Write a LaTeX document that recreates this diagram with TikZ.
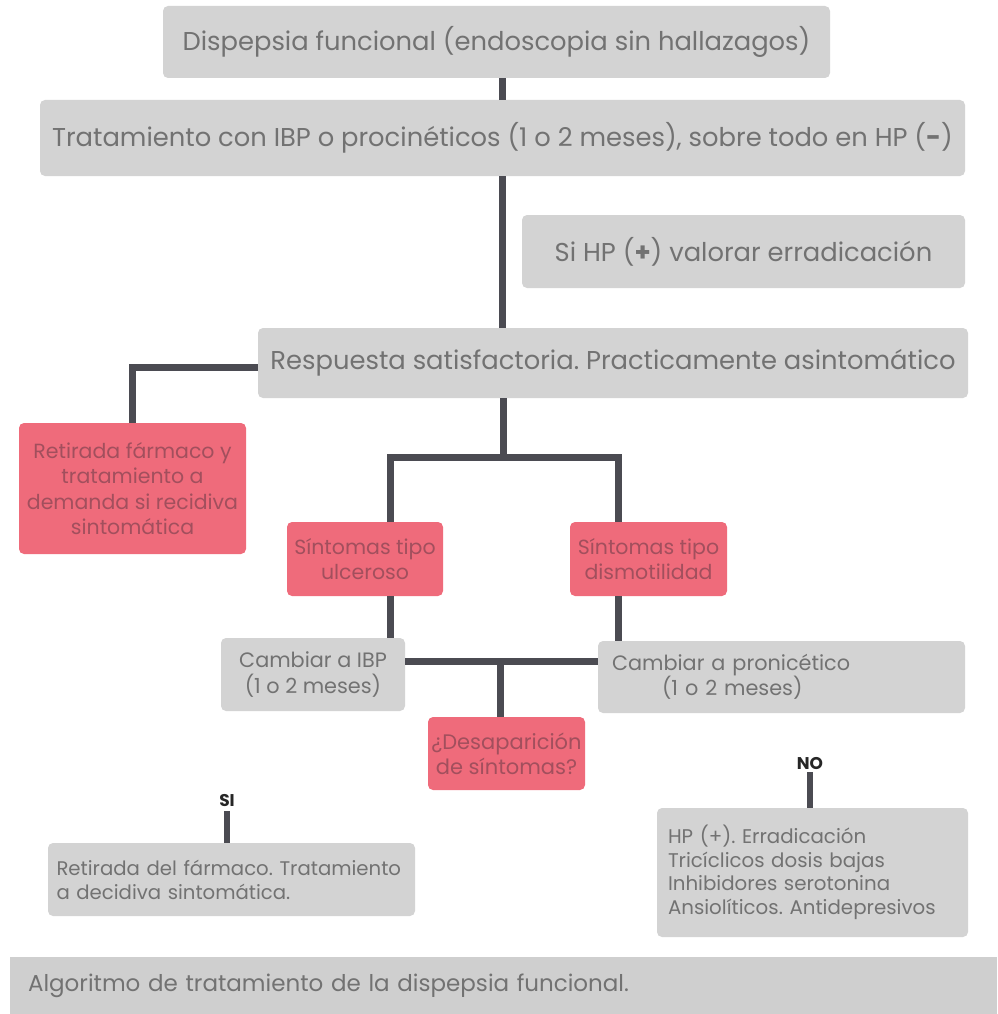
\documentclass[tikz,border=0pt]{standalone}
\usepackage{fontspec}
\setmainfont{Poppins}
\frenchspacing
\definecolor{boxgray}{HTML}{D3D3D3}
\definecolor{capgray}{HTML}{CFCFCF}
\definecolor{txtgray}{HTML}{727272}
\definecolor{boxred}{HTML}{EF6B7B}
\definecolor{txtred}{HTML}{A24F5D}
\definecolor{linegray}{HTML}{4B4B52}
\tikzset{%
dims/.style 2 args={minimum width=#1,minimum height=#2},
box/.style={rectangle,rounded corners=5pt,inner sep=0pt,align=center},
gbox/.style={box,fill=boxgray,text=txtgray,font=\fontsize{25.8}{30}\selectfont},
cbox/.style={box,fill=boxgray,text=txtgray,font=\fontsize{20.8}{25.5}\selectfont},
rbox/.style={box,fill=boxred,text=txtred,font=\fontsize{20.5}{25.5}\selectfont},
sbox/.style={box,fill=boxgray,text=txtgray,align=left,font=\fontsize{19.7}{24}\selectfont},
link/.style={draw=linegray,line width=7pt},
tag/.style={inner sep=0pt,text=black!85,font=\bfseries\fontsize{17}{19}\selectfont},
}
\begin{document}
\begin{tikzpicture}[x=1pt,y=-1pt]
\useasboundingbox (0,0) rectangle (997,1014);
\node[gbox,dims={667pt}{72pt}] (disp) at (496.5,42) {Dispepsia funcional (endoscopia sin hallazagos)};
\node[gbox,dims={925pt}{76pt}] (trat) at (502.5,138) {Tratamiento con IBP o procinéticos (1 o 2 meses), sobre todo en HP (\textbf{-})};
\node[gbox,dims={443pt}{73pt}] (hp) at (743.5,251.5) {Si HP (\textbf{+}) valorar erradicación};
\node[gbox,dims={710pt}{70pt}] (resp) at (613,363) {Respuesta satisfactoria. Practicamente asintomático};
\node[rbox,dims={227pt}{131pt}] (retir) at (132.5,488.5) {Retirada fármaco y\\tratamiento a\\demanda si recidiva\\sintomática};
\node[rbox,dims={156pt}{74pt}] (ulc) at (365,559) {Síntomas tipo\\ulceroso};
\node[rbox,dims={157pt}{74pt}] (dism) at (648.5,559) {Síntomas tipo\\dismotilidad};
\node[cbox,dims={184pt}{73pt}] (cibp) at (313,674.5) {Cambiar a IBP\\(1 o 2 meses)};
\node[cbox,dims={367pt}{72pt},text width=339pt,align=left] (cpro) at (781.5,677) {Cambiar a pronicético\\\hspace*{50pt}(1 o 2 meses)};
\node[rbox,dims={157pt}{73pt},font=\fontsize{21}{25}\selectfont] (desap) at (506.5,753.5) {¿Desaparición\\de síntomas?};
\node[tag] (si) at (227,800) {SI};
\node[tag] (no) at (810,763) {NO};
\node[sbox,dims={367pt}{73pt},text width=350pt] (retfin) at (231.5,879.5) {Retirada del fármaco. Tratamiento\\a decidiva sintomática.};
\node[sbox,dims={311pt}{129pt},text width=289pt,font=\fontsize{19.8}{23.5}\selectfont] (alt) at (812.5,872.5) {HP (+). Erradicación\\Tricíclicos dosis bajas\\Inhibidores serotonina\\Ansiolíticos. Antidepresivos};
\node[rectangle,fill=capgray,inner sep=0pt,dims={987pt}{57pt},text width=951pt,align=left,text=txtgray,font=\fontsize{23}{26}\selectfont] (cap) at (503.5,985.5) {Algoritmo de tratamiento de la dispepsia funcional.};
\coordinate (split) at (503,457);
\coordinate (ulcx) at (390,0);
\coordinate (dismx) at (618,0);
\coordinate (join) at (500,661);
\draw[link] (trat.north) -- (trat.north |- disp.south);
\draw[link] (trat.south) -- (trat.south |- resp.north);
\draw[link] ([yshift=-4pt]resp.west) -| (retir.north);
\draw[link] (split |- resp.south) -- (split);
\draw[link] (ulc.north -| ulcx) |- (split) -| (dism.north -| dismx);
\draw[link] (ulc.south -| ulcx) -- (cibp.north -| ulcx);
\draw[link] (dism.south -| dismx) -- (cpro.north -| dismx);
\draw[link] (cibp.east |- join) -- (cpro.west |- join);
\draw[link] (join) -- (join |- desap.north);
\draw[link,line width=6pt] ([yshift=-5pt]si.south) -- (si.south |- retfin.north);
\draw[link,line width=6pt] ([yshift=-3pt]no.south) -- (no.south |- alt.north);
\end{tikzpicture}
\end{document}
